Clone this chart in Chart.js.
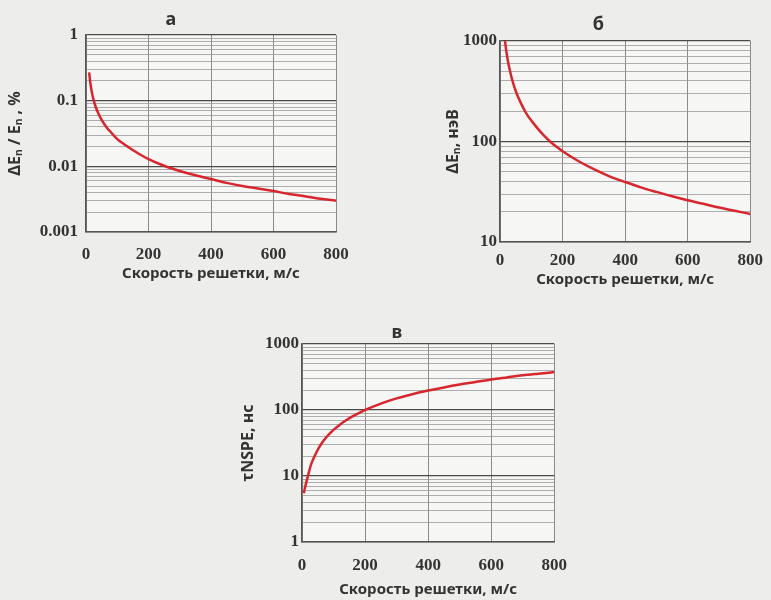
<!DOCTYPE html>
<html>
<head>
<meta charset="utf-8">
<script src="https://cdn.jsdelivr.net/npm/chart.js@4"></script>
<style>
  body { margin:0; width:771px; height:600px; background:#ededeb; position:relative; overflow:hidden; }
  canvas { position:absolute; }
</style>
</head>
<body>
<canvas id="chart-a" style="left:0;top:0" width="370" height="290"></canvas>
<canvas id="chart-b" style="left:400px;top:0" width="371" height="300"></canvas>
<canvas id="chart-c" style="left:200px;top:318px" width="380" height="282"></canvas>
<script>
// скорость решетки, м/с
const speedA = [10, 15, 20, 25, 30, 40, 50, 60, 70, 80, 90, 100, 120, 140, 160, 180, 200, 250, 300, 350, 400, 450, 500, 550, 600, 650, 700, 750, 800];
const relLossA = [0.27, 0.17, 0.125, 0.1, 0.083, 0.063, 0.051, 0.043, 0.037, 0.033, 0.029, 0.026, 0.022, 0.019, 0.0165, 0.0145, 0.0129, 0.0102, 0.0085, 0.0073, 0.0064, 0.0056, 0.005, 0.0046, 0.0042, 0.0038, 0.0035, 0.0032, 0.003];

const speedB = [16, 20, 25, 30, 40, 50, 60, 70, 80, 90, 100, 120, 140, 160, 180, 200, 250, 300, 350, 400, 450, 500, 550, 600, 650, 700, 750, 800];
const lossB = [1000, 800, 640, 535, 400, 320, 268, 230, 200, 178, 162, 135, 115, 100, 89, 80, 64, 53, 45, 39.5, 35, 31.5, 28.5, 26, 24, 22, 20.5, 19];

const speedC = [6, 10, 15, 20, 25, 30, 40, 50, 60, 70, 80, 90, 100, 120, 140, 160, 180, 200, 250, 300, 350, 400, 450, 500, 550, 600, 650, 700, 750, 800];
const tauC = [5.5, 6.8, 8.5, 10.5, 13, 15.5, 20, 25, 30, 35, 40, 45, 50, 60, 70, 80, 90, 100, 125, 150, 173, 197, 220, 243, 265, 290, 312, 335, 355, 375];

const xTicks = [0, 200, 400, 600, 800];
const yDecadesA = [0.001, 0.01, 0.1, 1];
const yDecadesB = [10, 100, 1000];
const yDecadesC = [1, 10, 100, 1000];

const xTitle = 'Скорость решетки, м/с';
const SERIF = '"Liberation Serif", "DejaVu Serif", serif';
const SANS = '"Noto Sans", "Open Sans", sans-serif';

function isDecade(v) {
  const l = Math.log10(v);
  return Math.abs(l - Math.round(l)) < 1e-6;
}

// box: plot rectangle in canvas pixels; lay: title / tick spacing per panel
function drawPanel(id, xs, ys, decades, title, yTitle, box, lay) {
  const el = document.getElementById(id);
  const W = el.width, H = el.height;
  const pts = xs.map((x, i) => ({ x, y: ys[i] }));
  const yTitleLH = 19;
  const titleLH = 21.6;
  new Chart(el, {
    type: 'line',
    data: { datasets: [{ data: pts, borderColor: '#d8262e', borderWidth: 2.5, pointRadius: 0, cubicInterpolationMode: 'monotone' }] },
    options: {
      responsive: false, animation: false,
      layout: { padding: { left: lay.yTitleX - yTitleLH / 2, right: W - box.right, top: box.top - titleLH - lay.titleGap, bottom: 0 } },
      plugins: {
        legend: { display: false }, tooltip: { enabled: false },
        title: { display: true, text: title, color: '#333', font: { family: SANS, size: 18, weight: 'bold' }, padding: { top: 0, bottom: lay.titleGap } }
      },
      scales: {
        x: {
          type: 'linear', min: 0, max: 800,
          afterBuildTicks: s => { s.ticks = xTicks.map(v => ({ value: v })); },
          afterFit: s => { s.height = H - box.bottom; },
          grid: { color: '#8a8a8a', lineWidth: 1, drawTicks: false },
          border: { color: '#555', width: 1.5 },
          ticks: { color: '#333', padding: lay.xTickPad, maxRotation: 0, font: { family: SERIF, size: 17, weight: 'bold' } },
          title: { display: true, text: xTitle, color: '#333', padding: { top: 0, bottom: lay.xTitleBottom }, font: { family: SANS, size: 15, weight: 'bold' } }
        },
        y: {
          type: 'logarithmic', min: decades[0], max: decades[decades.length - 1],
          afterBuildTicks: s => {
            const t = [];
            decades.forEach((d, i) => {
              t.push({ value: d });
              if (i < decades.length - 1) for (let k = 2; k <= 9; k++) t.push({ value: d * k });
            });
            s.ticks = t;
          },
          afterFit: s => { s.width = box.left - (lay.yTitleX - yTitleLH / 2); },
          grid: {
            drawTicks: false,
            color: c => isDecade(c.tick.value) ? '#4a4a4a' : '#9a9a9a',
            lineWidth: c => isDecade(c.tick.value) ? 1.3 : 0.8
          },
          border: { color: '#555', width: 1.5 },
          ticks: {
            autoSkip: false, color: '#333', padding: lay.yTickPad,
            font: { family: SERIF, size: 17, weight: 'bold' },
            callback: v => isDecade(v) ? String(+v.toPrecision(3)) : ''
          },
          title: { display: true, text: yTitle, color: '#333', padding: 0, font: { family: SANS, size: 16, weight: 'bold' } }
        }
      }
    },
    plugins: [{
      id: 'plotBg',
      beforeDraw: ch => {
        const a = ch.chartArea, g = ch.ctx;
        g.save(); g.fillStyle = '#f6f6f4'; g.fillRect(a.left, a.top, a.right - a.left, a.bottom - a.top); g.restore();
      }
    }]
  });
}

drawPanel('chart-a', speedA, relLossA, yDecadesA, 'а', 'ΔEₙ / Eₙ , %', { left: 86, right: 336, top: 35, bottom: 232 },
  { yTitleX: 15, yTickPad: 8, titleGap: 4, xTickPad: 12, xTitleBottom: 7 });
drawPanel('chart-b', speedB, lossB, yDecadesB, 'б', 'ΔEₙ, нэВ', { left: 100, right: 353, top: 41, bottom: 242 },
  { yTitleX: 53, yTickPad: 3, titleGap: 5, xTickPad: 8, xTitleBottom: 11 });
drawPanel('chart-c', speedC, tauC, yDecadesC, 'в', 'τNSPE, нс', { left: 102, right: 355, top: 26, bottom: 224 },
  { yTitleX: 48, yTickPad: 3, titleGap: 0, xTickPad: 13, xTitleBottom: 1 });
</script>
</body>
</html>
